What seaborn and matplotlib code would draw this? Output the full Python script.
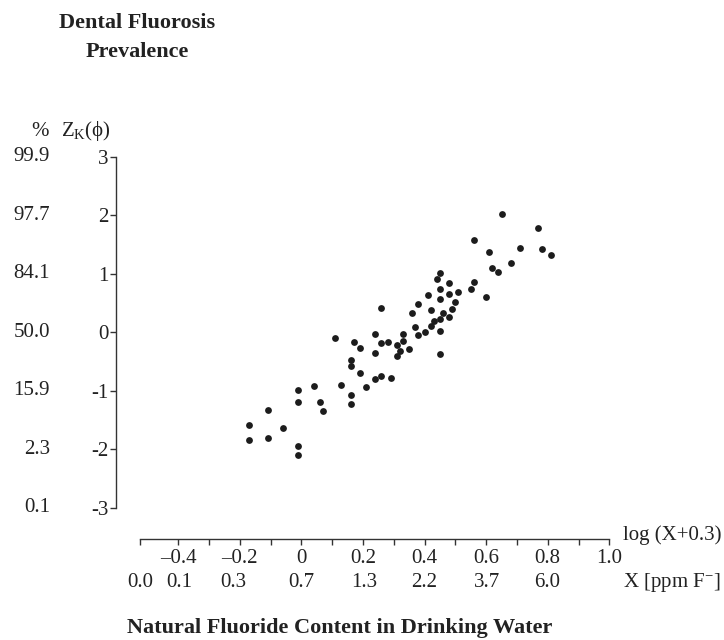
import numpy as np
import matplotlib
matplotlib.use("Agg")
import matplotlib.pyplot as plt
import matplotlib.transforms as mtransforms
import seaborn as sns

# one point per community: log(X+0.3) of the water fluoride and the
# probit Z_K of the dental fluorosis prevalence
log_f = [0.65, 0.77, 0.56, 0.61, 0.71, 0.78, 0.81, 0.68, 0.62, 0.64,
         0.45, 0.44, 0.48, 0.56, 0.45, 0.51, 0.55, 0.48, 0.41, 0.60,
         0.45, 0.50, 0.38, 0.42, 0.49, 0.46, 0.36, 0.26, 0.48, 0.45,
         0.43, 0.42, 0.37, 0.40, 0.45, 0.38, 0.33, 0.24, 0.11, 0.33,
         0.28, 0.26, 0.17, 0.31, 0.19, 0.35, 0.32, 0.24, 0.31, 0.45,
         0.16, 0.16, 0.19, 0.24, 0.26, 0.29, 0.13, 0.21, 0.04, -0.01,
         -0.01, 0.06, 0.07, 0.16, 0.16, -0.11, -0.17, -0.06, -0.17, -0.11,
         -0.01, -0.01]
z_k = [2.02, 1.78, 1.58, 1.38, 1.45, 1.43, 1.32, 1.18, 1.10, 1.03,
       1.01, 0.91, 0.85, 0.87, 0.75, 0.70, 0.74, 0.66, 0.64, 0.60,
       0.57, 0.52, 0.49, 0.38, 0.40, 0.34, 0.33, 0.42, 0.27, 0.23,
       0.19, 0.11, 0.09, 0.00, 0.03, -0.05, -0.03, -0.02, -0.09, -0.15,
       -0.17, -0.18, -0.16, -0.22, -0.27, -0.28, -0.31, -0.35, -0.41, -0.36,
       -0.47, -0.58, -0.70, -0.79, -0.74, -0.78, -0.90, -0.93, -0.91, -0.99,
       -1.18, -1.18, -1.34, -1.06, -1.23, -1.33, -1.58, -1.63, -1.84, -1.81,
       -1.94, -2.09]

z_ticks = [3, 2, 1, 0, -1, -2, -3]
z_labels = ["3", "2", "1", "0", "-1", "-2", "-3"]
pct_labels = ["99.9", "97.7", "84.1", "50.0", "15.9", "2.3", "0.1"]
log_ticks = [-0.4, -0.2, 0, 0.2, 0.4, 0.6, 0.8, 1.0]
log_labels = ["\u20130.4", "\u20130.2", "0", "0.2", "0.4", "0.6", "0.8", "1.0"]
log_minor = [-0.3, -0.1, 0.1, 0.3, 0.5, 0.7, 0.9]
ppm_values = [0.0, 0.1, 0.3, 0.7, 1.3, 2.2, 3.7, 6.0]

sns.set_style("ticks")
plt.rcParams["font.family"] = ["Liberation Serif", "DejaVu Serif"]
plt.rcParams["mathtext.fontset"] = "custom"
plt.rcParams["mathtext.rm"] = "Liberation Serif"
plt.rcParams["mathtext.it"] = "Liberation Serif:italic"

ink = "#222222"
line = "#333333"
fs = 15
W, H = 724, 640

fig = plt.figure(figsize=(W / 100, H / 100), dpi=100)
ax = fig.add_axes([116 / W, 101 / H, 493.3 / W, 382 / H])

sns.scatterplot(x=log_f, y=z_k, s=24, color="#1c1c1c", linewidth=0, ax=ax)

ax.set_xlim(-0.602, 1.0)
ax.set_ylim(-3.53, 3.0)
for side in ["top", "right"]:
    ax.spines[side].set_visible(False)
x_start = np.log10(0.0 + 0.3)
ax.spines["left"].set_bounds(-3, 3)
ax.spines["bottom"].set_bounds(x_start, 1.0)
for side in ["left", "bottom"]:
    ax.spines[side].set_color(line)
    ax.spines[side].set_linewidth(1.0)

ax.set_yticks(z_ticks, labels=z_labels)
ax.tick_params(axis="y", length=4.5, width=1.0, color=line, pad=1,
               labelsize=fs, labelcolor=ink)
ax.set_xticks(log_ticks)
ax.set_xticks(log_minor + [x_start], minor=True)
ax.tick_params(axis="x", which="both", length=4.5, width=1.0, color=line,
               labelbottom=False)

# first label row: log(X+0.3), second row: X in ppm
tr = mtransforms.blended_transform_factory(ax.transData, ax.transAxes)
for pos, lab in zip(log_ticks, log_labels):
    ax.text(pos, -0.05, lab, transform=tr, ha="center", va="center",
            fontsize=fs, color=ink)
for val in ppm_values:
    ax.text(np.log10(val + 0.3), -0.115, f"{val:.1f}", transform=tr,
            ha="center", va="center", fontsize=fs, color=ink)

# percent scale beside the probit scale
tr_y = mtransforms.blended_transform_factory(ax.transAxes, ax.transData)
for pos, lab in zip(z_ticks, pct_labels):
    ax.text(-0.134, pos, lab, transform=tr_y, ha="right", va="center",
            fontsize=fs, color=ink)

fig.text(49 / W, 1 - 131 / H, "%", ha="right", va="center",
         fontsize=fs, color=ink)
fig.text(61 / W, 1 - 131 / H, r"Z$_{\mathrm{K}}$($\mathrm{\phi}$)",
         ha="left", va="center", fontsize=fs, color=ink)

fig.text(623 / W, 1 - 535 / H, "log (X+0.3)", ha="left", va="center",
         fontsize=fs, color=ink)
fig.text(623 / W, 1 - 583 / H, r"X [ppm F$^{\mathrm{-}}$]", ha="left",
         va="center", fontsize=fs, color=ink)

fig.text(137.5 / W, 1 - 28 / H, "Dental Fluorosis", ha="center",
         va="baseline", fontsize=16, fontweight="bold", color=ink)
fig.text(137.5 / W, 1 - 57 / H, "Prevalence", ha="center",
         va="baseline", fontsize=16, fontweight="bold", color=ink)
fig.text(340 / W, 1 - 633 / H, "Natural Fluoride Content in Drinking Water",
         ha="center", va="baseline", fontsize=16, fontweight="bold", color=ink)

fig.savefig("out.png", dpi=100)
